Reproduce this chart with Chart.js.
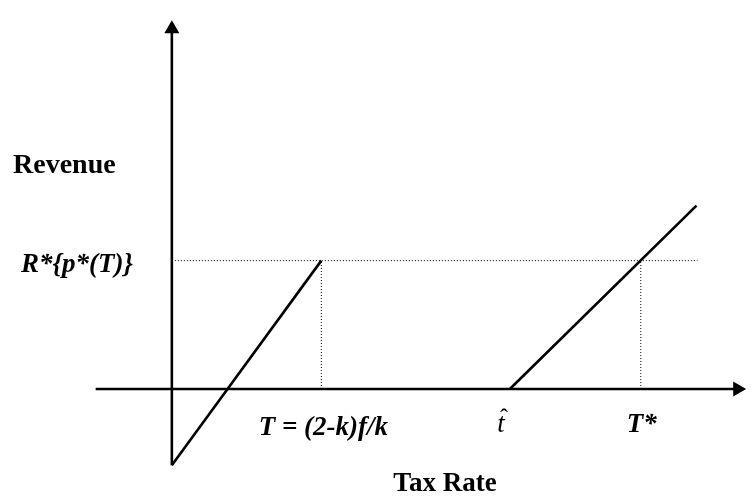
<!DOCTYPE html>
<html>
<head>
<meta charset="utf-8">
<script src="https://cdn.jsdelivr.net/npm/chart.js@4.4.1/dist/chart.umd.min.js"></script>
<style>
  body { margin: 0; background: #fff; }
  #wrap { width: 755px; height: 501px; }
</style>
</head>
<body>
<div id="wrap"><canvas id="tax-chart" width="755" height="501"></canvas></div>
<script>
// values in diagram units, origin where the two axes cross
const yAxisLine = [[0, -79], [0, 373]];
const xAxisLine = [[-78, 0], [579, 0]];
const lowBranch = [[0, -79], [153, 133]];
const highBranch = [[346, 0], [537, 190]];
const revenueLevel = 133;
const revenueLevelEnd = 538;
const tickValues = [153, 346, 480];
const tickLabels = ["T = (2-k)f/k", "t", "T*"];

const pts = arr => arr.map(p => ({ x: p[0], y: p[1] }));
const serif = "'Liberation Serif', 'Times New Roman', serif";

const labelPlugin = {
  id: 'labels',
  afterDatasetsDraw(chart) {
    const ctx = chart.ctx;
    const xs = chart.scales.x, ys = chart.scales.y;
    const axisY = ys.getPixelForValue(0);
    ctx.save();
    ctx.fillStyle = '#000';
    ctx.textBaseline = 'alphabetic';

    // x ticks
    ctx.textAlign = 'center';
    ctx.font = "italic bold 27px " + serif;
    ctx.fillText(tickLabels[0], xs.getPixelForValue(tickValues[0]) + 2, axisY + 46);
    ctx.fillText(tickLabels[2], xs.getPixelForValue(tickValues[2]) + 1, axisY + 43);
    ctx.font = "italic 27px " + serif;
    const tx = xs.getPixelForValue(tickValues[1]) - 9;
    ctx.fillText(tickLabels[1], tx, axisY + 43);
    ctx.font = "24px " + serif;
    ctx.fillText("\u02C6", tx + 3, axisY + 36);

    // y tick
    ctx.textAlign = 'right';
    ctx.font = "italic bold 27px " + serif;
    ctx.fillText("R*{p*(T)}", xs.getPixelForValue(0) - 39, ys.getPixelForValue(revenueLevel) + 11);

    // axis titles
    ctx.textAlign = 'left';
    ctx.font = "bold 28px " + serif;
    ctx.fillText("Revenue", 13, 173);
    ctx.textAlign = 'center';
    ctx.font = "bold 27px " + serif;
    ctx.fillText("Tax Rate", 445, 491);
    ctx.restore();
  }
};

const solid = { showLine: true, borderColor: '#000', borderWidth: 2.6, pointRadius: 0, fill: false, clip: false };
const dotted = { showLine: true, borderColor: '#000', borderWidth: 1, borderDash: [1, 2], pointRadius: 0, fill: false, clip: false };

new Chart(document.getElementById("tax-chart"), {
  type: 'scatter',
  data: {
    datasets: [
      Object.assign({ data: pts([[0, revenueLevel], [revenueLevelEnd, revenueLevel]]) }, dotted),
      Object.assign({ data: pts([[tickValues[0], 0], [tickValues[0], revenueLevel]]) }, dotted),
      Object.assign({ data: pts([[tickValues[2], 0], [tickValues[2], revenueLevel]]) }, dotted),
      Object.assign({ data: pts(yAxisLine) }, solid),
      Object.assign({ data: pts(xAxisLine) }, solid),
      Object.assign({ data: pts(lowBranch) }, solid),
      Object.assign({ data: pts(highBranch) }, solid),
      {
        data: [{ x: yAxisLine[1][0], y: yAxisLine[1][1] }, { x: xAxisLine[1][0], y: xAxisLine[1][1] }],
        showLine: false,
        pointStyle: 'triangle',
        pointRadius: 8.7,
        rotation: [0, 90],
        backgroundColor: '#000',
        borderColor: '#000',
        borderWidth: 0,
        clip: false
      }
    ]
  },
  options: {
    responsive: false,
    animation: false,
    layout: { padding: 0 },
    plugins: { legend: { display: false }, tooltip: { enabled: false } },
    scales: {
      x: { type: 'linear', min: -167, max: 588, display: false },
      y: { type: 'linear', min: -107, max: 394, display: false }
    }
  },
  plugins: [labelPlugin]
});
</script>
</body>
</html>
